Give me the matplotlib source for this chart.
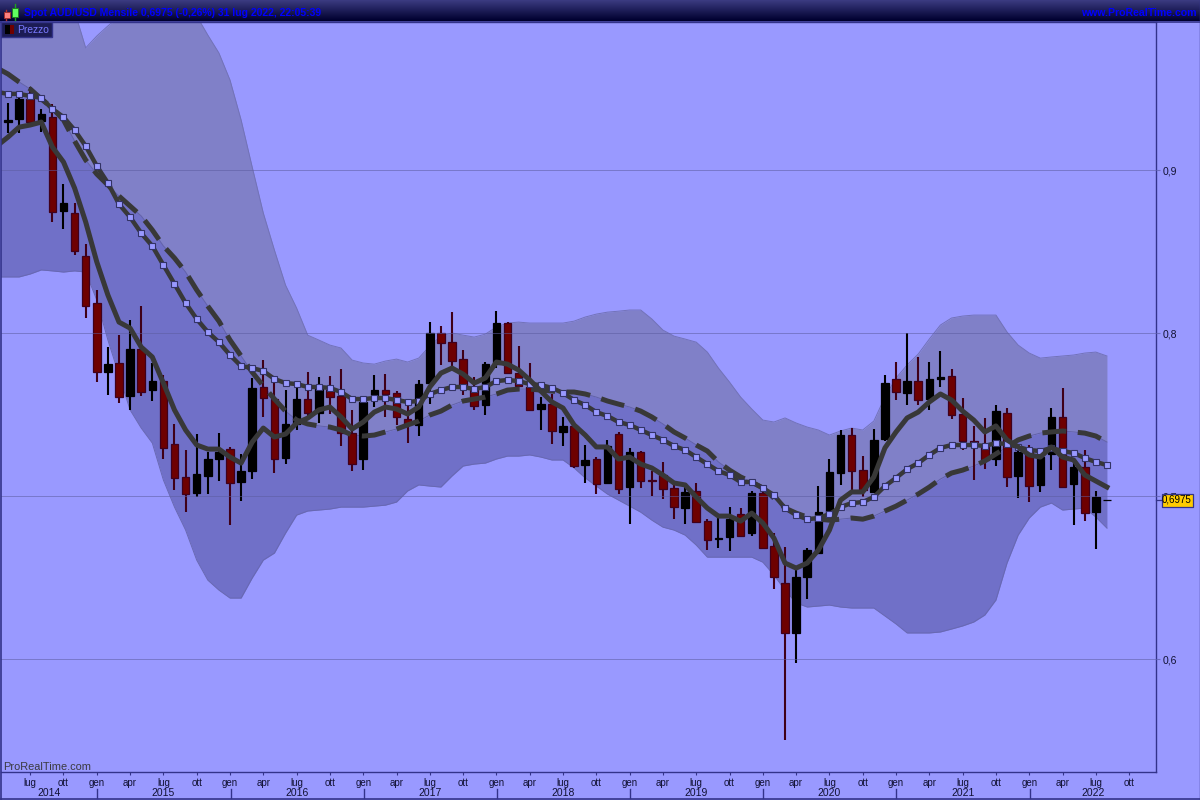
import numpy as np
import matplotlib
matplotlib.use("Agg")
import matplotlib.pyplot as plt
from matplotlib.patches import Rectangle

plt.rcParams['font.family'] = ['Liberation Sans', 'DejaVu Sans']

# Monthly candles, May 2014 to Aug 2022
open_p = [.9294, .9313, .9436, .9300, .9325, .8749, .8736, .8472, .8184, .7760,
          .7816, .7613, .7901, .7650, .7705, .7319, .7117, .7019, .7123, .7227,
          .7288, .7086, .7153, .7669, .7595, .7233, .7442, .7595, .7509, .7650,
          .7613, .7386, .7227, .7619, .7650, .7632, .7472, .7436, .7693, .8000,
          .7944, .7840, .7650, .7558, .7809, .8061, .7754, .7669, .7534, .7564,
          .7393, .7430, .7190, .7227, .7080, .7380, .7055, .7270, .7098, .7129,
          .7049, .6926, .7031, .6846, .6736, .6748, .6889, .6772, .7019, .6693,
          .6466, .6160, .6503, .6650, .6895, .7141, .7374, .7159, .7025, .7350,
          .7718, .7632, .7705, .7595, .7718, .7736, .7503, .7337, .7301, .7227,
          .7509, .7123, .7270, .7068, .7258, .7485, .7074, .7178, .6901, .6975]
high_p = [.9411, .9448, .9509, .9374, .9405, .8914, .8798, .8546, .8264, .7914,
          .7987, .8079, .8165, .7816, .7742, .7442, .7282, .7380, .7270, .7386,
          .7301, .7258, .7725, .7834, .7699, .7650, .7669, .7760, .7730, .7736,
          .7779, .7528, .7607, .7742, .7748, .7644, .7558, .7712, .8067, .8043,
          .8128, .7895, .7730, .7822, .8134, .8067, .7920, .7816, .7607, .7626,
          .7485, .7448, .7313, .7239, .7344, .7393, .7295, .7276, .7153, .7209,
          .7080, .7068, .7080, .6858, .6865, .6932, .6926, .7031, .7025, .6772,
          .6687, .6564, .6681, .7061, .7227, .7405, .7417, .7245, .7411, .7742,
          .7822, .8000, .7853, .7822, .7889, .7779, .7601, .7430, .7479, .7558,
          .7540, .7276, .7313, .7264, .7540, .7663, .7209, .7282, .7031, .6975]
low_p = [.9227, .9227, .9282, .9233, .8681, .8638, .8479, .8092, .7699, .7619,
         .7571, .7528, .7613, .7583, .7227, .7037, .6901, .6994, .7013, .7092,
         .6822, .6969, .7104, .7485, .7141, .7196, .7405, .7485, .7448, .7503,
         .7307, .7153, .7159, .7546, .7485, .7436, .7325, .7368, .7564, .7804,
         .7785, .7619, .7528, .7497, .7785, .7748, .7669, .7521, .7405, .7319,
         .7307, .7172, .7080, .7013, .7074, .7013, .6828, .7049, .7000, .6981,
         .6858, .6828, .6834, .6668, .6681, .6662, .6748, .6754, .6675, .6429,
         .5503, .5975, .6368, .6650, .6871, .7068, .7037, .6994, .7019, .7337,
         .7589, .7558, .7558, .7528, .7669, .7472, .7282, .7098, .7165, .7184,
         .7055, .6988, .6963, .7025, .7159, .7049, .6822, .6846, .6675, .6975]
close_p = [.9306, .9436, .9294, .9343, .8742, .8798, .8503, .8165, .7760, .7809,
           .7607, .7901, .7638, .7705, .7295, .7111, .7013, .7135, .7227, .7270,
           .7080, .7153, .7663, .7601, .7227, .7442, .7595, .7509, .7663, .7607,
           .7386, .7196, .7577, .7650, .7626, .7485, .7442, .7687, .8000, .7938,
           .7828, .7681, .7552, .7809, .8061, .7754, .7675, .7528, .7564, .7399,
           .7430, .7184, .7221, .7074, .7307, .7043, .7270, .7092, .7092, .7043,
           .6932, .7025, .6840, .6730, .6742, .6858, .6754, .7019, .6681, .6503,
           .6160, .6503, .6668, .6901, .7147, .7374, .7153, .7037, .7344, .7693,
           .7638, .7705, .7589, .7718, .7730, .7497, .7337, .7331, .7221, .7521,
           .7117, .7270, .7061, .7239, .7485, .7055, .7178, .6895, .6994, .6975]

# Indicators start one month before the first candle
band_up = [1.0932, 1.0834, 1.0736, 1.0632, 1.0485, 1.0380, 1.0239, .9975, .9749, .9822,
           .9884, .9939, 1.0031, 1.0018, .9939, .9969, .9988, .9957, .9945, .9828,
           .9718, .9552, .9307, .9018, .8736, .8509, .8294, .8153, .7987, .7957,
           .7926, .7908, .7834, .7816, .7809, .7828, .7840, .7822, .7846, .7920,
           .7981, .8000, .7987, .7975, .7993, .8037, .8061, .8067, .8061, .8061,
           .8061, .8061, .8073, .8098, .8116, .8128, .8134, .8141, .8141, .8086,
           .8018, .7981, .7963, .7944, .7883, .7785, .7699, .7607, .7534, .7466,
           .7454, .7479, .7448, .7423, .7405, .7374, .7399, .7417, .7405, .7460,
           .7607, .7724, .7804, .7871, .7963, .8049, .8092, .8104, .8110, .8110,
           .8110, .8006, .7926, .7877, .7846, .7853, .7859, .7865, .7877, .7883,
           .7859]
band_mid = [.9626, .9589, .9540, .9497, .9436, .9380, .9307, .9178, .9061, .8975,
            .8908, .8840, .8779, .8718, .8632, .8534, .8460, .8374, .8264, .8165,
            .8073, .7957, .7859, .7760, .7675, .7595, .7521, .7466, .7442, .7430,
            .7423, .7405, .7374, .7368, .7374, .7393, .7411, .7436, .7460, .7497,
            .7521, .7558, .7583, .7595, .7607, .7626, .7650, .7656, .7656, .7650,
            .7644, .7638, .7638, .7626, .7607, .7583, .7564, .7546, .7521, .7485,
            .7442, .7393, .7356, .7313, .7276, .7209, .7159, .7117, .7086, .7049,
            .6988, .6926, .6895, .6871, .6858, .6852, .6858, .6865, .6858, .6877,
            .6908, .6938, .6975, .7012, .7055, .7104, .7141, .7159, .7184, .7215,
            .7258, .7301, .7344, .7368, .7386, .7393, .7399, .7393, .7386, .7368,
            .7331]
band_low = [.8344, .8344, .8344, .8362, .8387, .8381, .8374, .8381, .8374, .8202,
            .7957, .7742, .7528, .7417, .7325, .7098, .6932, .6791, .6607, .6484,
            .6423, .6374, .6374, .6497, .6607, .6650, .6772, .6883, .6908, .6914,
            .6920, .6932, .6932, .6932, .6938, .6944, .6963, .7031, .7068, .7061,
            .7055, .7123, .7184, .7196, .7202, .7227, .7245, .7245, .7252, .7239,
            .7221, .7221, .7172, .7111, .7061, .7012, .6975, .6938, .6901, .6852,
            .6809, .6791, .6760, .6699, .6625, .6625, .6625, .6625, .6625, .6594,
            .6515, .6423, .6344, .6319, .6325, .6331, .6319, .6313, .6313, .6313,
            .6264, .6215, .6160, .6160, .6160, .6166, .6184, .6203, .6227, .6270,
            .6362, .6589, .6760, .6865, .6932, .6957, .6914, .6920, .6926, .6871,
            .6803]
ma_fast = [.9148, .9202, .9263, .9276, .9294, .9141, .9049, .8889, .8681, .8436,
           .8233, .8067, .8030, .7914, .7853, .7693, .7528, .7405, .7313, .7288,
           .7288, .7239, .7202, .7331, .7417, .7362, .7380, .7448, .7478, .7528,
           .7546, .7485, .7411, .7454, .7515, .7546, .7534, .7503, .7546, .7669,
           .7754, .7785, .7748, .7693, .7724, .7822, .7809, .7773, .7712, .7644,
           .7577, .7540, .7436, .7374, .7301, .7301, .7227, .7239, .7196, .7172,
           .7129, .7080, .7068, .6994, .6926, .6877, .6877, .6846, .6895, .6834,
           .6742, .6589, .6558, .6589, .6668, .6791, .6975, .7025, .7025, .7117,
           .7295, .7393, .7479, .7515, .7577, .7626, .7589, .7521, .7466, .7393,
           .7430, .7344, .7301, .7252, .7239, .7301, .7239, .7221, .7129, .7092,
           .7055]
ma_dot = [.9479, .9467, .9467, .9454, .9442, .9374, .9325, .9245, .9147, .9025,
          .8920, .8791, .8711, .8613, .8534, .8417, .8301, .8184, .8086, .8006,
          .7944, .7865, .7797, .7785, .7767, .7718, .7693, .7687, .7669, .7669,
          .7663, .7638, .7595, .7595, .7601, .7601, .7589, .7577, .7583, .7626,
          .7650, .7669, .7669, .7656, .7669, .7705, .7712, .7705, .7687, .7681,
          .7663, .7632, .7589, .7558, .7515, .7491, .7454, .7436, .7405, .7374,
          .7344, .7307, .7282, .7239, .7196, .7153, .7129, .7086, .7086, .7049,
          .7006, .6926, .6883, .6858, .6865, .6889, .6932, .6957, .6963, .6994,
          .7061, .7111, .7165, .7202, .7252, .7295, .7313, .7313, .7313, .7307,
          .7325, .7319, .7301, .7282, .7276, .7295, .7276, .7264, .7233, .7209,
          .7190]

price_ticks = [0.6, 0.7, 0.8, 0.9]
price_labels = ['0,6', '0,7', '0,8', '0,9']
month_names = ['lug', 'ott', 'gen', 'apr']
year_names = ['2014', '2015', '2016', '2017', '2018', '2019', '2020', '2021', '2022']
last_price = 0.6975
title = 'Spot AUD/USD Mensile 0,6975 (-0,26%) 31 lug 2022, 22:05:39'

BG = '#9999ff'
FRAME = '#33338a'

fig = plt.figure(figsize=(12, 8), dpi=100, facecolor=BG)
ax = fig.add_axes([1 / 1200, 28 / 800, 1155 / 1200, 750 / 800], facecolor=BG)

candle_x = np.arange(len(close_p))
band_x = np.arange(-1, len(close_p))

# Bands
ax.fill_between(band_x, band_mid, band_up, color='#8080c8', lw=0, zorder=1)
ax.fill_between(band_x, band_low, band_mid, color='#7070c8', lw=0, zorder=1)
ax.plot(band_x, band_up, color='#7272b8', lw=0.7, zorder=1.2)
ax.plot(band_x, band_low, color='#6868b2', lw=0.7, zorder=1.2)
ax.plot(band_x, band_mid, color='#6262a8', lw=0.7, zorder=1.2)

ax.set_axisbelow(False)
ax.grid(axis='y', color='#5c5ca0', lw=0.7, alpha=0.55, zorder=1.5)

# Candles
for i in candle_x:
    up = close_p[i] >= open_p[i]
    wick = 'black' if up else '#3f0018'
    ax.plot([i, i], [low_p[i], high_p[i]], color=wick, lw=1.5, solid_capstyle='butt', zorder=2)
    ax.bar(i, abs(close_p[i] - open_p[i]), bottom=min(open_p[i], close_p[i]), width=0.68,
           color='black' if up else '#6e0000', edgecolor='black' if up else '#40001c',
           lw=0.9, zorder=2.5)

# Moving averages
ax.plot(band_x, band_mid, color='#383838', lw=3.6, dashes=(4.8, 2.3), dash_capstyle='butt', zorder=3)
ax.plot(band_x, ma_dot, color='#383838', lw=3.2, marker='s', ms=4.2, mfc=BG, mec='#333366',
        mew=0.8, zorder=3.2)
ax.plot(band_x, ma_fast, color='#383838', lw=3.6, solid_joinstyle='round', zorder=3.4)

ax.set_xlim(-0.63, 103.42)
ax.set_ylim(0.5307, 0.9908)

# Axes
ax.yaxis.tick_right()
ax.set_yticks(price_ticks)
ax.set_yticklabels(price_labels, fontsize=7.5, color='#111133')
month_ticks = np.arange(2, 102, 3)
ax.set_xticks(month_ticks)
ax.set_xticklabels([month_names[k % 4] for k in range(len(month_ticks))], fontsize=7, color='#111133')
ax.tick_params(axis='x', length=2.5, width=0.8, color=FRAME, pad=1.5)
ax.tick_params(axis='y', length=3, width=0.8, color='#6c6cc0', pad=1.5)
ax.spines['left'].set_visible(False)
for side in ax.spines:
    ax.spines[side].set_color(FRAME)
    ax.spines[side].set_linewidth(1.0)

# Overlay in figure pixels for the window chrome
ov = fig.add_axes([0, 0, 1, 1], facecolor='none')
ov.set_xlim(0, 1200)
ov.set_ylim(800, 0)
ov.axis('off')

shade = np.linspace(0, 1, 21)[:, None, None]
top = np.array([[[58, 58, 128]]]) / 255
bottom = np.array([[[0, 0, 46]]]) / 255
ov.imshow(top + (bottom - top) * shade, extent=(0, 1200, 21, 0), aspect='auto', zorder=1)
ov.set_xlim(0, 1200)
ov.set_ylim(800, 0)
ov.plot([0, 1200], [21.5, 21.5], color=FRAME, lw=1.2, zorder=2)
ov.plot([0.5, 1199.5], [798.5, 798.5], color=FRAME, lw=1.2, zorder=2)
ov.plot([1199.5, 1199.5], [0, 800], color=FRAME, lw=1.0, zorder=2)
ov.plot([0.5, 0.5], [22, 800], color=FRAME, lw=1.2, zorder=2)
ov.text(24, 12.5, title, color='#0000ff', fontsize=7.45, fontweight='bold', va='center', ha='left', zorder=3)
ov.text(1197, 12.5, 'www.ProRealTime.com', color='#0000ff', fontsize=7.6, fontweight='bold',
        va='center', ha='right', zorder=3)

# Icon in the title bar
ov.plot([6, 6], [10, 20], color='#b03030', lw=1, zorder=3)
ov.add_patch(Rectangle((3.5, 11.5), 6, 6, fc='#ff8080', ec='#a03030', lw=0.7, zorder=4))
ov.plot([14.5, 14.5], [4, 20], color='#20a020', lw=1, zorder=3)
ov.add_patch(Rectangle((11.5, 7.5), 6, 9, fc='#60ff60', ec='#208020', lw=0.7, zorder=4))

# Legend tab
ov.add_patch(Rectangle((1, 22), 51, 15, fc='#1c1c55', ec=FRAME, lw=1, zorder=3))
ov.add_patch(Rectangle((5, 25), 5, 9, fc='black', lw=0, zorder=4))
ov.add_patch(Rectangle((10, 25), 4, 9, fc='#6e0000', lw=0, zorder=4))
ov.text(17.5, 30, 'Prezzo', color='#7a7aff', fontsize=7.4, va='center', ha='left', zorder=4)

ov.text(3, 767, 'ProRealTime.com', color='#3a3a40', fontsize=7.9, va='center', ha='left', zorder=4)

# Year strip under the month labels
year_edges = [1, 96.5, 230.5, 363.5, 496.5, 629.5, 763, 896, 1029.5, 1156]
for k, name in enumerate(year_names):
    ov.text((year_edges[k] + year_edges[k + 1]) / 2, 793, name, color='#111133', fontsize=7.5,
            ha='center', va='center', zorder=4)
for edge in year_edges[1:-1]:
    ov.plot([edge, edge], [789, 798], color=FRAME, lw=1, zorder=3)

# Last price tag
ov.plot([1156, 1162], [500, 500], color=FRAME, lw=0.9, zorder=3)
ov.add_patch(Rectangle((1161.5, 493.5), 31, 13, fc='#ffcc00', ec=FRAME, lw=0.9, zorder=5))
ov.text(1177, 500, '0,6975', color='black', fontsize=7, ha='center', va='center', zorder=6)

fig.savefig('out.png', dpi=100, facecolor=BG)
